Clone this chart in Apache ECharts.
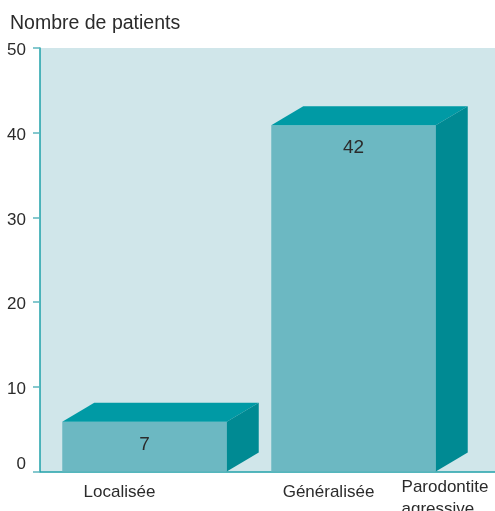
<!DOCTYPE html>
<html><head><meta charset="utf-8">
<script src="https://cdn.jsdelivr.net/npm/echarts@6/dist/echarts.min.js"></script>
<style>html,body{margin:0;padding:0;background:#fff}#c{width:495px;height:511px}</style>
</head><body><div id="c"></div>
<script>
const categories = ['Localisée', 'Généralisée', 'Parodontite\nagressive'];
const values = [7, 42, 0];
const yTicks = [0, 10, 20, 30, 40, 50];
const titleText = 'Nombre de patients';

const FONT = '"Liberation Sans", Arial, sans-serif';
const DX = 32, DY = 19;
const chart = echarts.init(document.getElementById('c'), null, {renderer: 'canvas'});

const catData = categories.map((c, i) => {
  if (i === categories.length - 1) {
    return {value: c, textStyle: {align: 'right', padding: [0, 74, 0, 0], rich: {a: {align: 'left', fontSize: 17, fontFamily: FONT, color: '#2b2b2b', lineHeight: 22}}}};
  }
  return {value: c, textStyle: {padding: [5, 50, 0, 0]}};
});

const yRich = {
  n: {fontFamily: FONT, fontSize: 17, color: '#2b2b2b', padding: [5, 0, 0, 0]},
  z: {fontFamily: FONT, fontSize: 17, color: '#2b2b2b', padding: [0, 0, 14, 0]}
};

chart.setOption({
  animation: false,
  title: {text: titleText, left: 5, top: 9, textStyle: {fontFamily: FONT, fontSize: 19.5, fontWeight: 'normal', color: '#2b2b2b'}},
  grid: {left: 40, top: 48, width: 627, height: 423.5, show: true, backgroundColor: '#d0e6ea', borderWidth: 0, outerBoundsMode: 'none', containLabel: false},
  xAxis: {
    type: 'category', data: catData,
    axisLine: {show: true, lineStyle: {color: '#1ea0a8', width: 1.5}},
    axisTick: {show: false},
    axisLabel: {
      interval: 0, margin: 5, fontFamily: FONT, fontSize: 17, color: '#2b2b2b', lineHeight: 22,
      formatter: function (v, i) {
        if (i === categories.length - 1) return v.split('\n').map(s => '{a|' + s + '}').join('\n');
        return v;
      }
    }
  },
  yAxis: {
    type: 'value', min: yTicks[0], max: yTicks[yTicks.length - 1], interval: yTicks[1] - yTicks[0],
    axisLine: {show: true, lineStyle: {color: '#1ea0a8', width: 1.5}},
    axisTick: {show: true, length: 7, lineStyle: {color: '#5cb6be', width: 1.5}},
    axisLabel: {
      margin: 14, fontFamily: FONT, fontSize: 17, color: '#2b2b2b', rich: yRich,
      formatter: function (v) { return (v === 0 ? '{z|' : '{n|') + v + '}'; }
    },
    splitLine: {show: false}
  },
  series: [{
    type: 'custom',
    data: values.map((v, i) => [i, v]),
    renderItem: function (params, api) {
      const v = api.value(1);
      if (!v) return null;
      const idx = api.value(0);
      const c = api.coord([idx, v]);
      const b = api.coord([idx, 0]);
      const w = api.size([1, 0])[0] * 0.787;
      const x0 = c[0] - w / 2, x1 = c[0] + w / 2;
      const yf = c[1] + DY / 2, yb = b[1];
      return {
        type: 'group',
        children: [
          {type: 'rect', shape: {x: x0, y: yf, width: w, height: yb - yf}, style: {fill: '#6cb8c2'}},
          {type: 'polygon', shape: {points: [[x0, yf], [x0 + DX, yf - DY], [x1 + DX, yf - DY], [x1, yf]]}, style: {fill: '#009aa5'}},
          {type: 'polygon', shape: {points: [[x1, yf], [x1 + DX, yf - DY], [x1 + DX, yb - DY], [x1, yb]]}, style: {fill: '#008a93'}},
          {type: 'text', style: {x: c[0], y: yf + 23, text: String(v), align: 'center', verticalAlign: 'middle', fontFamily: FONT, fontSize: 19, fill: '#2b2b2b'}}
        ]
      };
    }
  }]
});
</script></body></html>
